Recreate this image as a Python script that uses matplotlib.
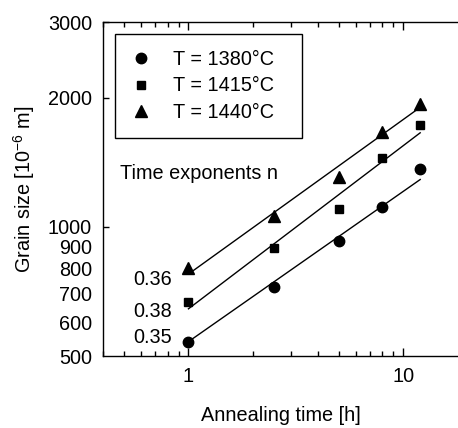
import numpy as np
import matplotlib

matplotlib.use("Agg")
import matplotlib.pyplot as plt
from matplotlib.lines import Line2D
from matplotlib.ticker import NullFormatter

plt.rcParams["font.family"] = ["Liberation Sans", "DejaVu Sans"]
plt.rcParams["mathtext.fontset"] = "custom"
plt.rcParams["mathtext.rm"] = "Liberation Sans"
plt.rcParams["mathtext.default"] = "regular"

FS = 14.3

# annealing times [h]
times = [1, 2.5, 5, 8, 12]

# grain size [1e-6 m] per temperature
size_1380 = [538, 723, 927, 1111, 1362]
size_1415 = [669, 894, 1101, 1450, 1728]
size_1440 = [800, 1060, 1309, 1667, 1934]

# power-law fits  d = a * t^n
fit_a = [540, 644, 776]
fit_n = [0.35, 0.38, 0.36]
fit_t = [1, 12]

labels = ["T = 1380°C", "T = 1415°C", "T = 1440°C"]
markers = ["o", "s", "^"]
msizes = [7.5, 6.0, 8.0]

fig = plt.figure(figsize=(4.58, 4.28), dpi=100)
ax = fig.add_axes([103 / 458, 72 / 428, 355 / 458, 334 / 428])

series = [size_1380, size_1415, size_1440]
for ys, m, ms in zip(series, markers, msizes):
    ax.plot(times, ys, linestyle="none", marker=m, color="black", markersize=ms)

t = np.array(fit_t, dtype=float)
for a, n in zip(fit_a, fit_n):
    ax.plot(t, a * t ** n, color="black", linewidth=1.0)

ax.set_xscale("log")
ax.set_yscale("log")
ax.set_xlim(0.4, 18)
ax.set_ylim(500, 3000)

ax.spines["right"].set_visible(False)
for s in ["left", "top", "bottom"]:
    ax.spines[s].set_linewidth(1.0)

ax.set_xticks([1, 10], ["1", "10"])
ax.xaxis.set_minor_formatter(NullFormatter())
ax.tick_params(axis="x", which="both", direction="in", top=True, labelsize=FS, pad=8)
ax.tick_params(axis="x", which="major", length=6, width=1.0)
ax.tick_params(axis="x", which="minor", length=3.5, width=1.0)

ax.set_yticks([1000, 2000, 3000], ["1000", "2000", "3000"])
ax.set_yticks([500, 600, 700, 800, 900], ["500", "600", "700", "800", "900"], minor=True)
ax.tick_params(axis="y", which="both", direction="in", labelsize=FS, pad=8)
ax.tick_params(axis="y", which="major", length=4, width=1.0)
ax.tick_params(axis="y", which="minor", length=0)

ax.set_xlabel("Annealing time [h]", fontsize=FS, labelpad=14)
ax.set_ylabel("Grain size [10$^{-6}$ m]", fontsize=FS, labelpad=8)

# exponent annotations
for yv, n in zip([551, 634, 752], ["0.35", "0.38", "0.36"]):
    ax.text(0.84, yv, n, fontsize=FS, ha="right", va="center")
ax.text(0.48, 1328, "Time exponents n", fontsize=FS, ha="left", va="center")

handles = [Line2D([], [], linestyle="none", marker=m, color="black", markersize=ms)
           for m, ms in zip(markers, msizes)]
leg = ax.legend(handles, labels, loc="upper left",
                bbox_to_anchor=(12 / 355, 1 - 15 / 334, 187 / 355, 0.01),
                mode="expand", borderaxespad=0, fontsize=FS, fancybox=False,
                edgecolor="black", framealpha=1, handlelength=1.0,
                handletextpad=1.1, borderpad=0.8, labelspacing=0.4)
leg.get_frame().set_linewidth(1.0)

fig.savefig("out.png", dpi=100)
